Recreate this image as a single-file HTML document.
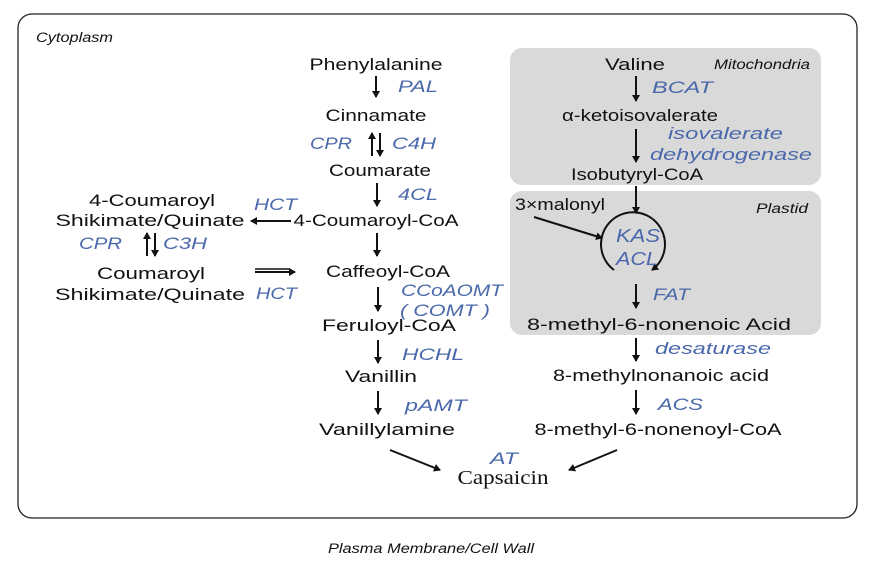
<!DOCTYPE html>
<html><head><meta charset="utf-8"><style>
body{margin:0;background:#fff}
svg{display:block}
text{font-family:"Liberation Sans",sans-serif;font-size:17px;fill:#111}
.b{fill:#4a68ab;font-style:italic}
.i{font-style:italic;font-size:13.5px}
</style></head><body>
<svg width="876" height="568" viewBox="0 0 876 568">
<defs><marker id="a" markerWidth="8" markerHeight="8" refX="6" refY="4" orient="auto" markerUnits="userSpaceOnUse"><path d="M0,0 L7,4 L0,8 z" fill="#111"/></marker></defs>
<rect x="18" y="14" width="839" height="504" rx="14" fill="#fff" stroke="#222" stroke-width="1.3"/>
<rect x="510" y="48" width="311" height="137" rx="12" fill="#d9d9d9"/>
<rect x="510" y="191" width="311" height="144" rx="12" fill="#d9d9d9"/>
<g stroke="#111" stroke-width="2" fill="none" marker-end="url(#a)">
<line x1="376" y1="76" x2="376" y2="97"/>
<line x1="372" y1="156" x2="372" y2="133"/>
<line x1="380" y1="133" x2="380" y2="156"/>
<line x1="377" y1="183" x2="377" y2="206"/>
<line x1="377" y1="233" x2="377" y2="256"/>
<line x1="378" y1="287" x2="378" y2="311"/>
<line x1="378" y1="340" x2="378" y2="363"/>
<line x1="378" y1="391" x2="378" y2="414"/>
<line x1="291" y1="221" x2="251" y2="221"/>
<line x1="147" y1="256" x2="147" y2="233"/>
<line x1="155" y1="233" x2="155" y2="256"/>
<line x1="255" y1="272" x2="295" y2="272"/>
<line x1="390" y1="450" x2="440" y2="470"/>
<line x1="617" y1="450" x2="569" y2="470"/>
<line x1="636" y1="76" x2="636" y2="101"/>
<line x1="636" y1="129" x2="636" y2="162"/>
<line x1="636" y1="186" x2="636" y2="213"/>
<line x1="534" y1="217" x2="602" y2="238"/>
<line x1="636" y1="284" x2="636" y2="308"/>
<line x1="636" y1="338" x2="636" y2="361"/>
<line x1="636" y1="390" x2="636" y2="414"/>
<path d="M614,270 A32,32 0 1 1 652,270"/>
</g>
<line x1="255" y1="269" x2="290" y2="269" stroke="#111" stroke-width="1.5"/>
<g text-anchor="middle">
<text x="376" y="70" textLength="133" lengthAdjust="spacingAndGlyphs">Phenylalanine</text>
<text x="376" y="121" textLength="101" lengthAdjust="spacingAndGlyphs">Cinnamate</text>
<text x="380" y="176" textLength="102" lengthAdjust="spacingAndGlyphs">Coumarate</text>
<text x="376" y="226" textLength="165" lengthAdjust="spacingAndGlyphs">4-Coumaroyl-CoA</text>
<text x="388" y="277" textLength="124" lengthAdjust="spacingAndGlyphs">Caffeoyl-CoA</text>
<text x="389" y="331" textLength="134" lengthAdjust="spacingAndGlyphs">Feruloyl-CoA</text>
<text x="381" y="382" textLength="72" lengthAdjust="spacingAndGlyphs">Vanillin</text>
<text x="387" y="435" textLength="136" lengthAdjust="spacingAndGlyphs">Vanillylamine</text>
<text x="503" y="484" style="font-family:'Liberation Serif',serif;font-size:20px" textLength="91" lengthAdjust="spacingAndGlyphs">Capsaicin</text>
<text x="152" y="206" textLength="126" lengthAdjust="spacingAndGlyphs">4-Coumaroyl</text>
<text x="150" y="226" textLength="189" lengthAdjust="spacingAndGlyphs">Shikimate/Quinate</text>
<text x="151" y="279" textLength="108" lengthAdjust="spacingAndGlyphs">Coumaroyl</text>
<text x="150" y="300" textLength="190" lengthAdjust="spacingAndGlyphs">Shikimate/Quinate</text>
<text x="635" y="70" textLength="60" lengthAdjust="spacingAndGlyphs">Valine</text>
<text x="640" y="121" textLength="156" lengthAdjust="spacingAndGlyphs">α-ketoisovalerate</text>
<text x="637" y="180" textLength="132" lengthAdjust="spacingAndGlyphs">Isobutyryl-CoA</text>
<text x="659" y="330" textLength="264" lengthAdjust="spacingAndGlyphs">8-methyl-6-nonenoic Acid</text>
<text x="661" y="381" textLength="216" lengthAdjust="spacingAndGlyphs">8-methylnonanoic acid</text>
<text x="658" y="435" textLength="247" lengthAdjust="spacingAndGlyphs">8-methyl-6-nonenoyl-CoA</text>
<text class="b" x="638" y="242" style="font-size:18px" textLength="44" lengthAdjust="spacingAndGlyphs">KAS</text>
<text class="b" x="637" y="265" style="font-size:18px" textLength="42" lengthAdjust="spacingAndGlyphs">ACL</text>
</g>
<text x="515" y="210" textLength="90" lengthAdjust="spacingAndGlyphs">3×malonyl</text>
<text class="b" x="398" y="92" textLength="40" lengthAdjust="spacingAndGlyphs">PAL</text>
<text class="b" x="310" y="149" textLength="42" lengthAdjust="spacingAndGlyphs">CPR</text>
<text class="b" x="392" y="149" textLength="44" lengthAdjust="spacingAndGlyphs">C4H</text>
<text class="b" x="398" y="200" textLength="40" lengthAdjust="spacingAndGlyphs">4CL</text>
<text class="b" x="401" y="296" textLength="102" lengthAdjust="spacingAndGlyphs">CCoAOMT</text>
<text class="b" x="400" y="316" textLength="90" lengthAdjust="spacingAndGlyphs">( COMT )</text>
<text class="b" x="402" y="360" textLength="62" lengthAdjust="spacingAndGlyphs">HCHL</text>
<text class="b" x="405" y="411" textLength="62" lengthAdjust="spacingAndGlyphs">pAMT</text>
<text class="b" x="490" y="464" textLength="28" lengthAdjust="spacingAndGlyphs">AT</text>
<text class="b" x="254" y="210" textLength="43" lengthAdjust="spacingAndGlyphs">HCT</text>
<text class="b" x="79" y="249" textLength="43" lengthAdjust="spacingAndGlyphs">CPR</text>
<text class="b" x="163" y="249" textLength="44" lengthAdjust="spacingAndGlyphs">C3H</text>
<text class="b" x="256" y="299" textLength="41" lengthAdjust="spacingAndGlyphs">HCT</text>
<text class="b" x="652" y="93" textLength="61" lengthAdjust="spacingAndGlyphs">BCAT</text>
<text class="b" x="668" y="139" textLength="115" lengthAdjust="spacingAndGlyphs">isovalerate</text>
<text class="b" x="650" y="160" textLength="162" lengthAdjust="spacingAndGlyphs">dehydrogenase</text>
<text class="b" x="653" y="300" textLength="37" lengthAdjust="spacingAndGlyphs">FAT</text>
<text class="b" x="655" y="354" textLength="116" lengthAdjust="spacingAndGlyphs">desaturase</text>
<text class="b" x="658" y="410" textLength="45" lengthAdjust="spacingAndGlyphs">ACS</text>
<text class="i" x="714" y="69" textLength="96" lengthAdjust="spacingAndGlyphs">Mitochondria</text>
<text class="i" x="756" y="213" textLength="52" lengthAdjust="spacingAndGlyphs">Plastid</text>
<text class="i" x="36" y="42" textLength="77" lengthAdjust="spacingAndGlyphs">Cytoplasm</text>
<text class="i" x="328" y="553" textLength="206" lengthAdjust="spacingAndGlyphs">Plasma Membrane/Cell Wall</text>
</svg>
</body></html>
